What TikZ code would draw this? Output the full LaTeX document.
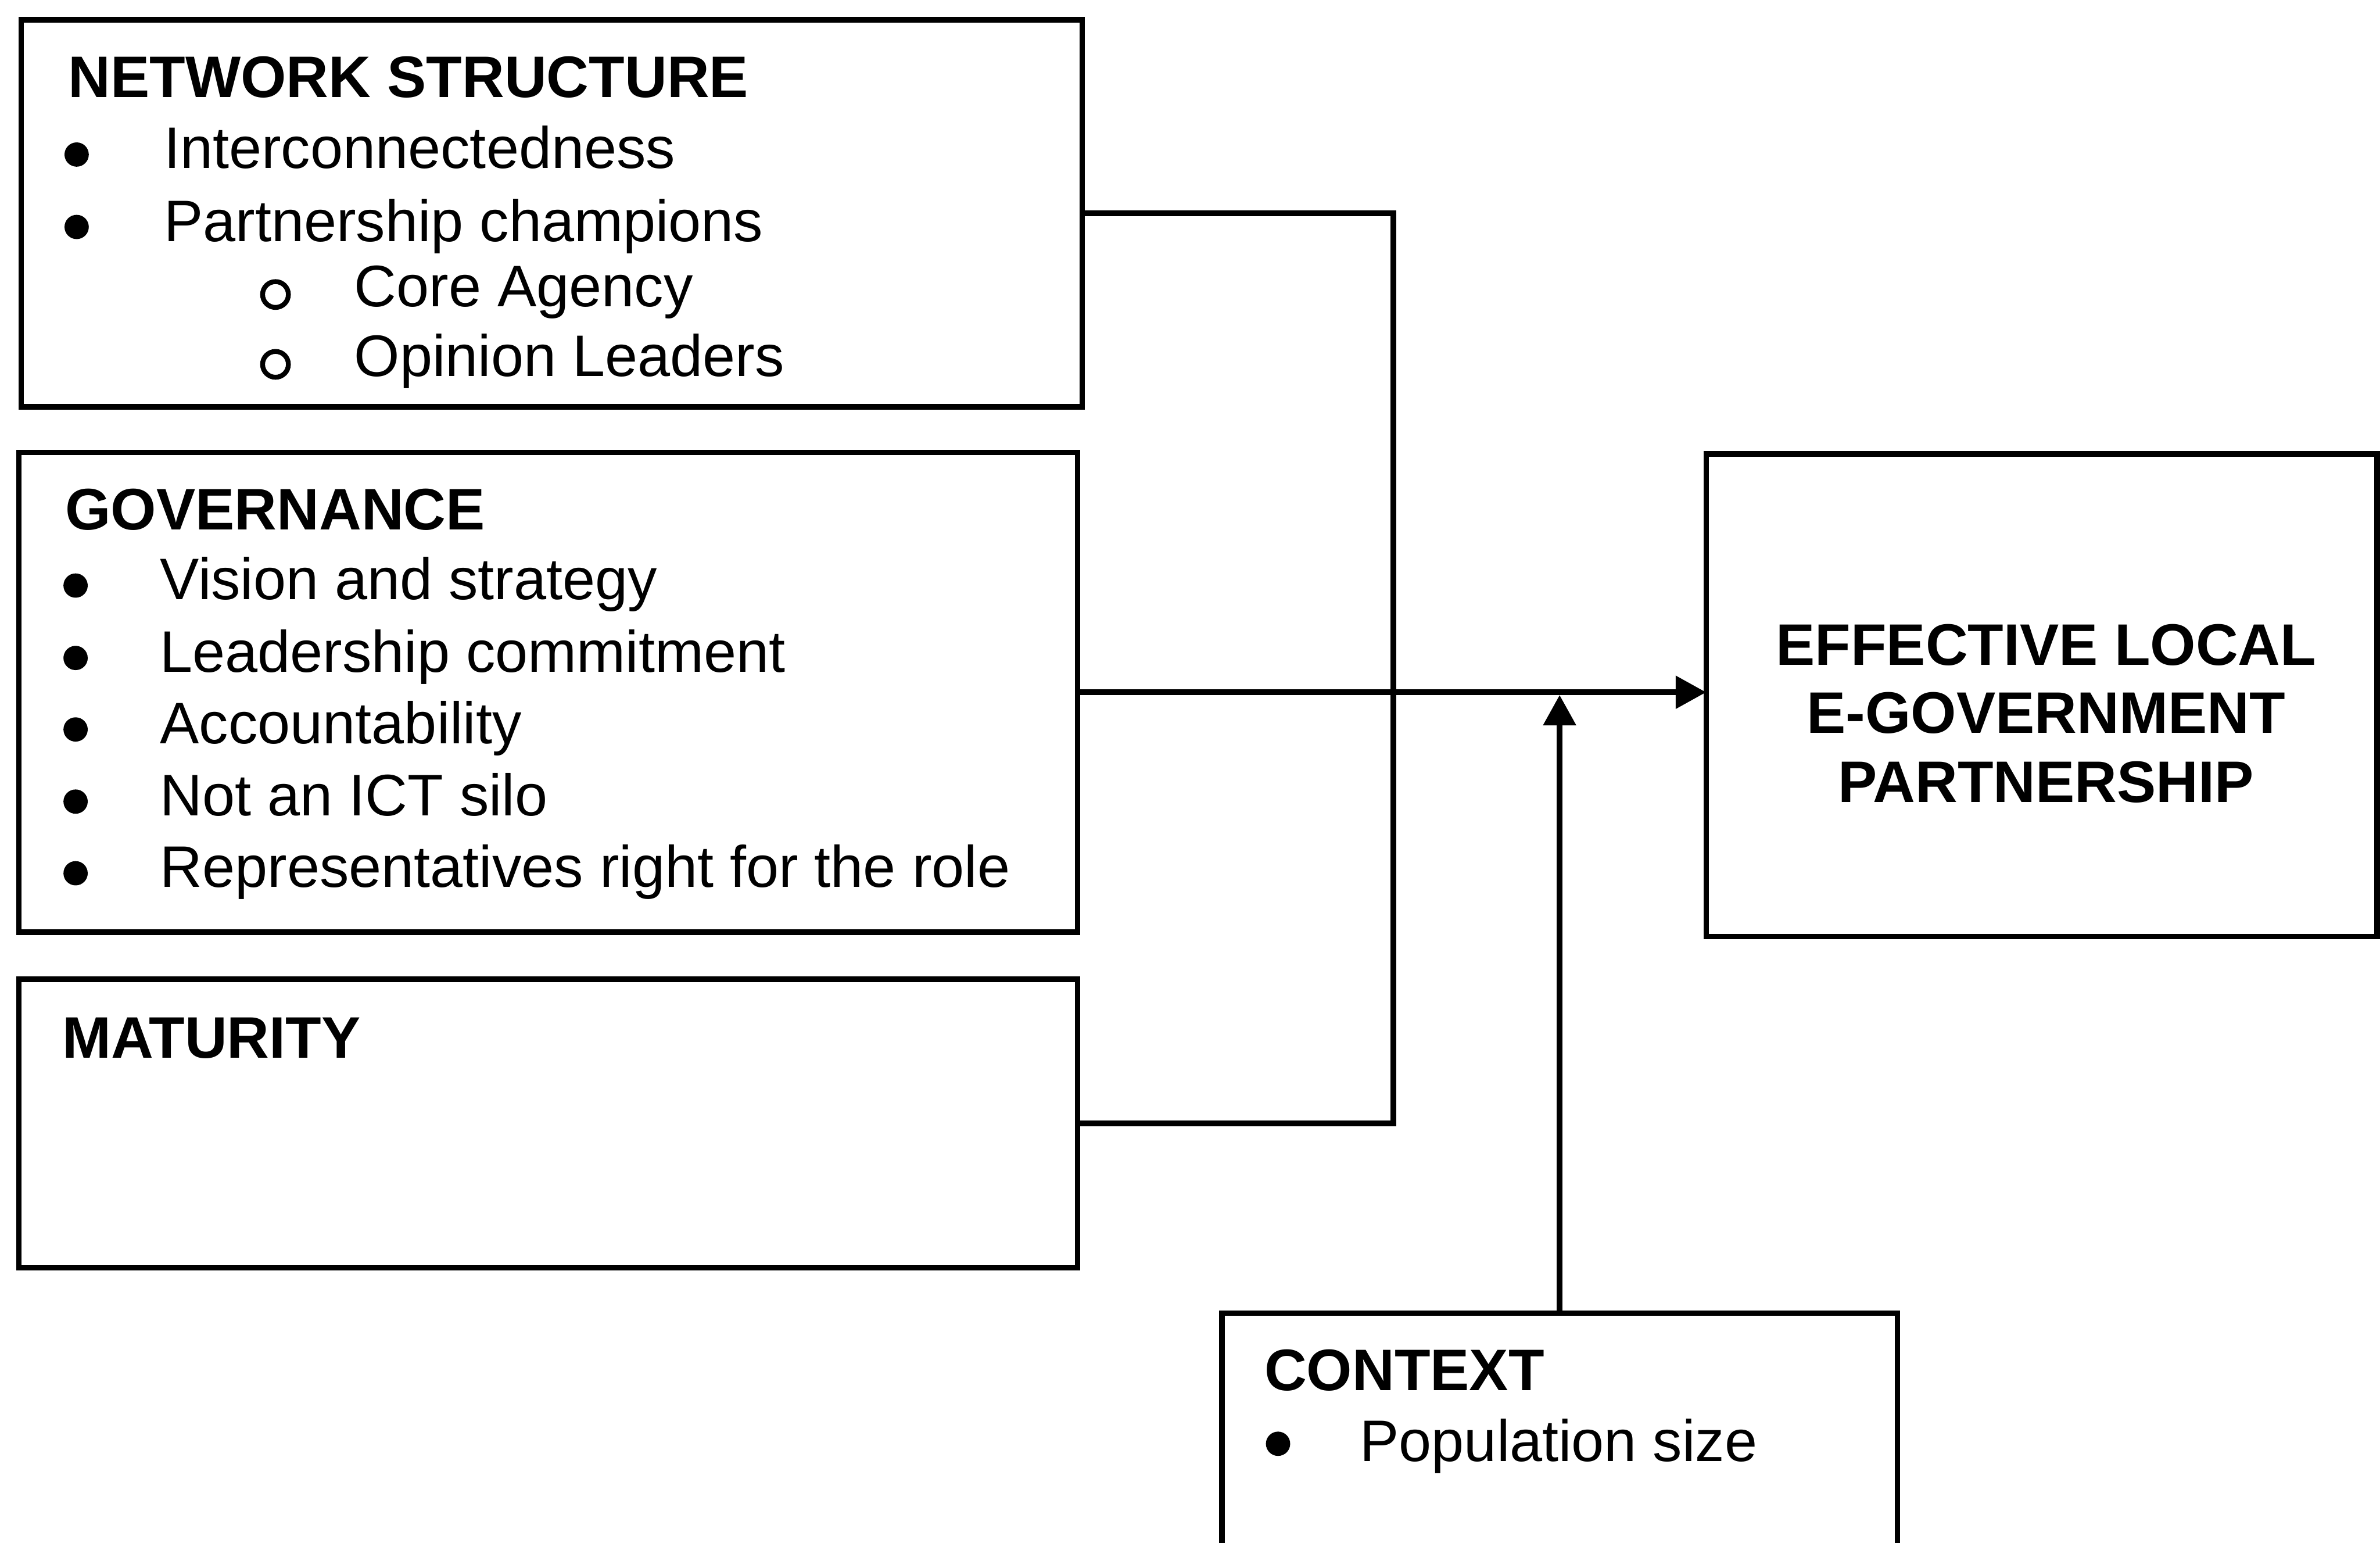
\documentclass[tikz,border=0pt]{standalone}
\usepackage{fontspec}
\setmainfont{Liberation Sans}
\usetikzlibrary{arrows.meta,fit}
\tikzset{
  box/.style={draw, line width=1.8pt, rectangle, inner sep=0pt, outer sep=0pt},
  txt/.style={anchor=base west, inner sep=0pt, outer sep=0pt, font=\fontsize{19.3pt}{23pt}\selectfont},
  head/.style={txt, font=\fontsize{19.3pt}{23pt}\selectfont\bfseries},
  ctr/.style={anchor=base, inner sep=0pt, outer sep=0pt, font=\fontsize{19.3pt}{23pt}\selectfont\bfseries},
  dot/.style={circle, fill=black, draw=none, inner sep=0pt, minimum size=8pt},
  ring/.style={circle, draw=black, line width=1.6pt, inner sep=0pt, minimum size=8.5pt},
  conn/.style={line width=1.8pt},
  arr/.style={line width=1.8pt, -{Triangle[length=10pt, width=10.5pt]}}
}
\begin{document}
\begin{tikzpicture}[x=0.5pt, y=-0.5pt]
\useasboundingbox (0,0) rectangle (1568,1016);
\clip (0,0) rectangle (1568,1016);
\fill[white] (0,0) rectangle (1568,1016);

% boxes
\node[box, fit={(14,13) (713,268)}] (ns) {};
\node[box, fit={(12.5,298) (710,614)}] (gov) {};
\node[box, fit={(12.5,645) (710,835)}] (mat) {};
\node[box, fit={(1124,299) (1566,617)}] (eff) {};
\node[box, fit={(805,865) (1250,1200)}] (ctx) {};

% NETWORK STRUCTURE
\node[head] (nsT) at (45,64) {NETWORK STRUCTURE};
\node[dot] (nsb1) at (50.5,101.8) {};
\node[txt] (ns1) at (108,111) {Interconnectedness};
\node[dot] (nsb2) at (50.5,149.5) {};
\node[txt] (ns2) at (108,159) {Partnership champions};
\node[ring] (nsr1) at (181.5,194) {};
\node[txt] (ns3) at (233.5,202) {Core Agency};
\node[ring] (nsr2) at (181.5,240) {};
\node[txt] (ns4) at (233.5,248) {Opinion Leaders};

% GOVERNANCE
\node[head] (govT) at (43,349) {GOVERNANCE};
\node[dot] (gb1) at (49.8,385.7) {};
\node[txt] (g1) at (105.5,395) {Vision and strategy};
\node[dot] (gb2) at (49.8,433.4) {};
\node[txt] (g2) at (105.5,442.7) {Leadership commitment};
\node[dot] (gb3) at (49.8,480.5) {};
\node[txt] (g3) at (105.5,489.8) {Accountability};
\node[dot] (gb4) at (49.8,528) {};
\node[txt] (g4) at (105.5,537.3) {Not an ICT silo};
\node[dot] (gb5) at (49.8,575.2) {};
\node[txt] (g5) at (105.5,584.5) {Representatives right for the role};

% MATURITY
\node[head] (matT) at (41,697) {MATURITY};

% EFFECTIVE
\node[ctr] (e1) at (1348,438) {EFFECTIVE LOCAL};
\node[ctr] (e2) at (1348,483) {E-GOVERNMENT};
\node[ctr] (e3) at (1348,528.4) {PARTNERSHIP};

% CONTEXT
\node[head] (ctxT) at (833,916) {CONTEXT};
\node[dot] (cb1) at (842,951) {};
\node[txt] (c1) at (896,962.6) {Population size};

% connectors
\coordinate (bend) at (918,0);
\draw[conn] (ns.east) -| (bend |- mat.east) -- (mat.east);
\draw[arr] (gov.east) -- (gov.east -| eff.west);
\draw[arr, shorten >=0.9pt] (ctx.north) -- (ctx.north |- gov.east);
\end{tikzpicture}
\end{document}
